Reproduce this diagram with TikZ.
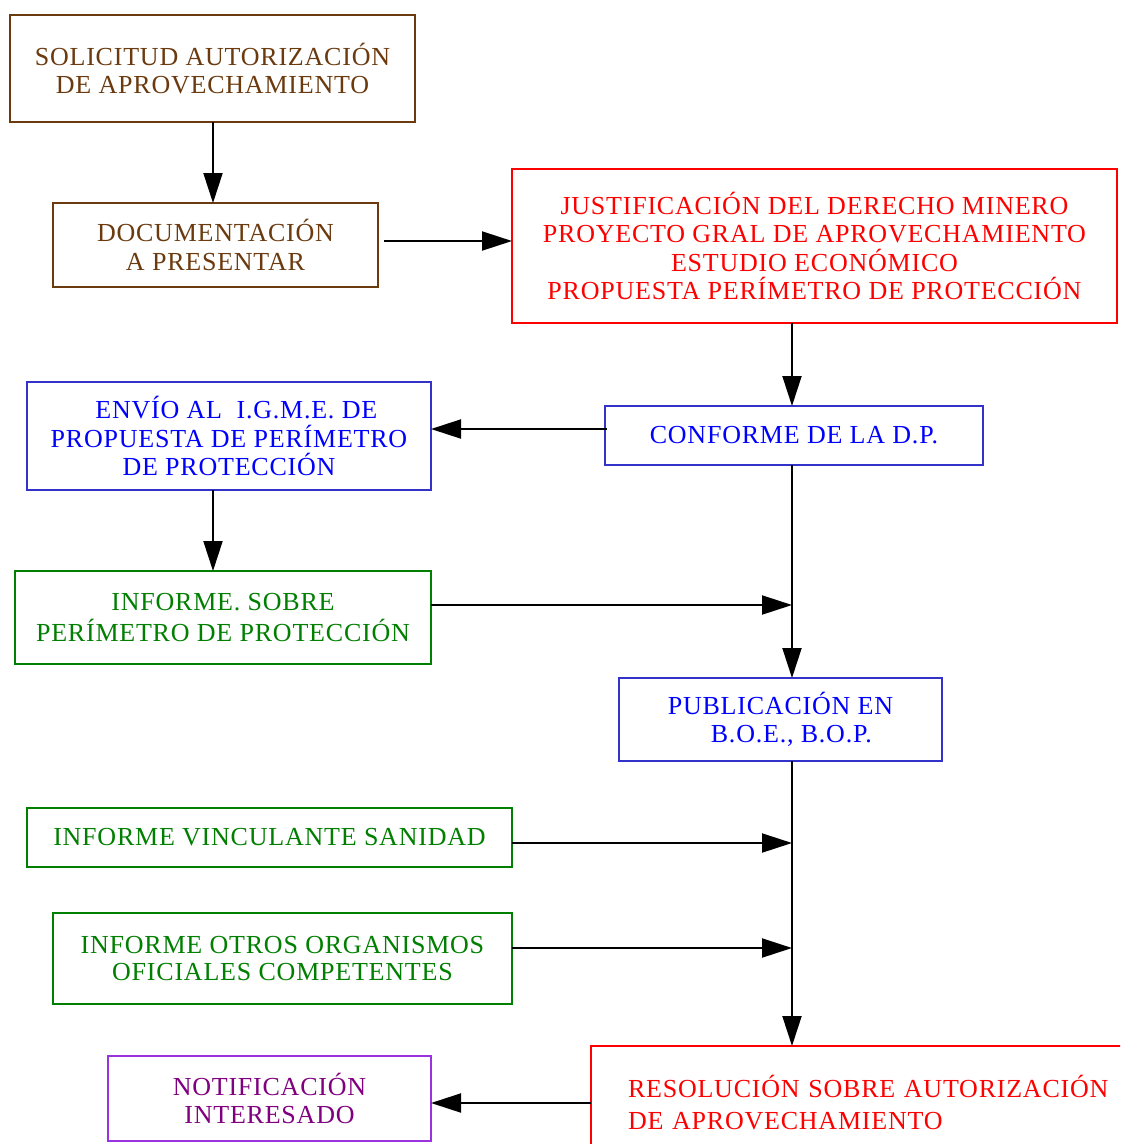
\documentclass[tikz,border=0pt]{standalone}
\usepackage{fontspec}
\setmainfont{Liberation Serif}[LetterSpace=3]
\usetikzlibrary{arrows.meta}
\definecolor{brownc}{HTML}{6B3A0E}
\definecolor{redc}{HTML}{FF0000}
\definecolor{bluebox}{HTML}{3333CC}
\definecolor{bluetxt}{HTML}{0000FF}
\definecolor{greenc}{HTML}{007F00}
\definecolor{purplebox}{HTML}{9933DD}
\definecolor{purpletxt}{HTML}{800080}
\begin{document}
\begin{tikzpicture}[x=1pt,y=-1pt,
  box/.style={draw, line width=1.6pt, align=center, inner sep=0pt, outer sep=0pt,
    font=\fontsize{26}{28.5}\selectfont},
  arr/.style={-{Triangle[length=30pt,width=19pt]}, line width=2pt}]
\clip (0,0) rectangle (1120,1144);
\fill[white] (0,0) rectangle (1120,1144);

\node[box, draw=brownc, text=brownc, minimum width=405pt, minimum height=107pt] (sol) at (212.5,68.5) {SOLICITUD AUTORIZACIÓN\\DE APROVECHAMIENTO};
\node[box, draw=brownc, text=brownc, minimum width=325pt, minimum height=84pt] (doc) at (215.5,245) {DOCUMENTACIÓN\\A PRESENTAR};
\node[box, draw=redc, text=redc, minimum width=605pt, minimum height=154pt] (just) at (814.5,246) {JUSTIFICACIÓN DEL DERECHO MINERO\\PROYECTO GRAL DE APROVECHAMIENTO\\ESTUDIO ECONÓMICO\\PROPUESTA PERÍMETRO DE PROTECCIÓN};
\node[box, draw=bluebox, text=bluetxt, minimum width=404pt, minimum height=108pt] (env) at (229,436) {\ \ ENVÍO AL \ I.G.M.E. DE\\PROPUESTA DE PERÍMETRO\\DE PROTECCIÓN};
\node[box, draw=bluebox, text=bluetxt, minimum width=378pt, minimum height=59pt] (conf) at (794,435.5) {CONFORME DE LA D.P.};
\node[box, draw=greenc, text=greenc, minimum width=416pt, minimum height=93pt, font=\fontsize{26}{31}\selectfont] (inf) at (223,617.5) {INFORME. SOBRE\\PERÍMETRO DE PROTECCIÓN};
\node[box, draw=bluebox, text=bluetxt, minimum width=323pt, minimum height=83pt] (pub) at (780.5,719.5) {PUBLICACIÓN EN\\\ \ \ B.O.E., B.O.P.};
\node[box, draw=greenc, text=greenc, minimum width=485pt, minimum height=59pt] (vinc) at (269.5,837.5) {INFORME VINCULANTE SANIDAD};
\node[box, draw=greenc, text=greenc, minimum width=459pt, minimum height=91pt, font=\fontsize{26}{27.5}\selectfont] (otros) at (282.5,958.5) {INFORME OTROS ORGANISMOS\\OFICIALES COMPETENTES};
\node[box, draw=purplebox, text=purpletxt, minimum width=323pt, minimum height=85pt] (noti) at (269.5,1098.5) {NOTIFICACIÓN\\INTERESADO};
\node[box, draw=redc, text=redc, minimum width=570pt, minimum height=114pt, text width=496pt, align=left, font=\fontsize{26}{32}\selectfont] (res) at (876,1103) {RESOLUCIÓN SOBRE AUTORIZACIÓN\\DE APROVECHAMIENTO};

\coordinate (tr) at (792,0);
\coordinate (x1) at (213,0);
\coordinate (d1) at (384,241);
\coordinate (c1) at (607,429);
\coordinate (j1) at (792,605);
\coordinate (j2) at (792,843);
\coordinate (j3) at (792,948);
\coordinate (r1) at (591,1103);

\draw[arr] (x1 |- sol.south) -- (x1 |- doc.north);
\draw[arr] (d1) -- (d1 -| just.west);
\draw[arr] (tr |- just.south) -- (tr |- conf.north);
\draw[arr] (c1) -- (c1 -| env.east);
\draw[arr] (x1 |- env.south) -- (x1 |- inf.north);
\draw[arr] (tr |- conf.south) -- (tr |- pub.north);
\draw[arr] (inf.east |- j1) -- (j1);
\draw[arr] (tr |- pub.south) -- (tr |- res.north);
\draw[arr] (vinc.east |- j2) -- (j2);
\draw[arr] (otros.east |- j3) -- (j3);
\draw[arr] (r1) -- (r1 -| noti.east);
\end{tikzpicture}
\end{document}
